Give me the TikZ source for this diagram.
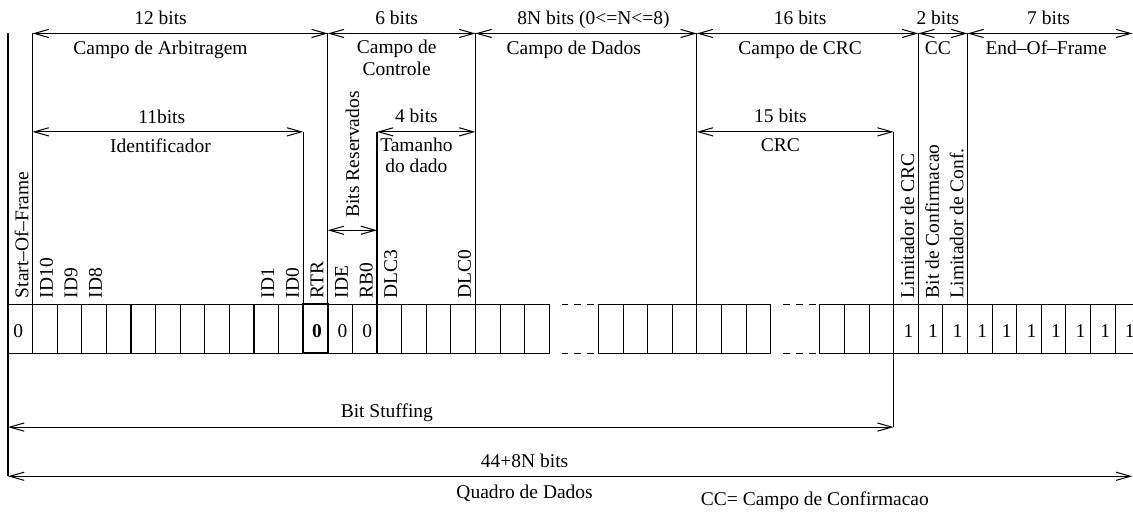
\documentclass[tikz,border=0pt]{standalone}
\usepackage{fontspec}
\setmainfont{Liberation Serif}
\usepackage{tikz}
\usetikzlibrary{arrows.meta}

\begin{document}
\begin{tikzpicture}[
  x=12pt,
  y=12pt,
  font=\fontsize{9.5}{10.3}\selectfont,
  line width=0.5pt,
  >={Straight Barb[length=7pt,width=4pt]},
  dim/.style={<->},
  cell/.style={draw=black},
  gap/.style={dash pattern=on 3.3pt off 3pt},
  lbl/.style={inner sep=0pt, anchor=base, align=center},
  vlbl/.style={inner sep=0pt, rotate=90, anchor=west},
  val/.style={inner sep=0pt}
]

\useasboundingbox (-0.325,-8.46) rectangle (45.73,12.36);

% limits of the fields (top row), of the sub-fields and of the bit row
\foreach \i in {0,1,13,19,28,37,39} \coordinate (t\i) at (\i,11);
\foreach \i in {1,12,15,19,28,36} \coordinate (m\i) at (\i,7);
\foreach \i in {0,1,12,13,15,19,28,36,37,39} \coordinate (c\i) at (\i,0);
\coordinate (tend) at (45.7,11);
\coordinate (r13) at (13,3);
\coordinate (r15) at (15,3);
\coordinate (s0) at (0,-5);
\coordinate (s36) at (36,-5);
\coordinate (q0) at (0,-7);
\coordinate (qend) at (45.7,-7);

% bits
\foreach \i in {0,...,21} \draw[cell] (\i,0) rectangle ++(1,-2);
\foreach \i in {24,...,30} \draw[cell] (\i,0) rectangle ++(1,-2);
\foreach \i in {33,...,45} \draw[cell] (\i,0) rectangle ++(1,-2);
\draw[line width=1pt] (12,0) rectangle (13,-2);
\foreach \a in {22.5,31.5} {
  \draw[gap] (\a,0) -- ++(1.45,0);
  \draw[gap] (\a,-2) -- ++(1.45,0);
}

% field limits
\draw (t0) -- (q0);
\foreach \i in {1,13,19,28,37,39} \draw (t\i) -- (c\i);
\foreach \i in {12,15} \draw (m\i) -- (c\i);
\draw (m36) -- (s36);

\draw[dim] (t1) -- (t13);
\draw[dim] (t13) -- (t19);
\draw[dim] (t19) -- (t28);
\draw[dim] (t28) -- (t37);
\draw[dim] (t37) -- (t39);
\draw[dim] (t39) -- (tend);
\draw[dim] (m1) -- (m12);
\draw[dim] (m15) -- (m19);
\draw[dim] (m28) -- (m36);
\draw[dim] (r13) -- (r15);
\draw[dim] (s0) -- (s36);
\draw[dim] (q0) -- (qend);

% field names
\node[lbl] (arbn) at (6.2,11.37) {12 bits};
\node[lbl] (arb) at (6.2,10.16) {Campo de Arbitragem};
\node[lbl] (ctln) at (15.8,11.37) {6 bits};
\node[lbl] (ctl) at (15.8,9.31) {Campo de\\Controle};
\node[lbl] (datn) at (23.8,11.37) {8N bits (0<=N<=8)};
\node[lbl] (dat) at (23.0,10.16) {Campo de Dados};
\node[lbl] (crcn) at (32.2,11.37) {16 bits};
\node[lbl] (crc) at (32.2,10.16) {Campo de CRC};
\node[lbl] (ccn) at (37.8,11.37) {2 bits};
\node[lbl] (cc) at (37.8,10.16) {CC};
\node[lbl] (eofn) at (42.3,11.37) {7 bits};
\node[lbl] (eof) at (42.2,10.16) {End--Of--Frame};

\node[lbl] (idn) at (6.25,7.36) {11bits};
\node[lbl] (id) at (6.2,6.17) {Identificador};
\node[lbl] (dlcn) at (16.6,7.38) {4 bits};
\node[lbl] (dlc) at (16.6,5.35) {Tamanho\\do dado};
\node[lbl] (crcsn) at (31.4,7.38) {15 bits};
\node[lbl] (crcs) at (31.4,6.19) {CRC};
\node[vlbl] (resv) at (14.0,3.5) {Bits Reservados};

% bit names
\node[vlbl] (sof) at (0.55,0.22) {Start--Of--Frame};
\foreach \i/\t in {1/ID10, 2/ID9, 3/ID8, 10/ID1, 11/ID0, 12/RTR, 13/IDE,
    14/RB0, 15/DLC3, 18/DLC0, 36/Limitador de CRC, 37/Bit de Confirmacao,
    38/Limitador de Conf.}
  \node[vlbl] (b\i) at (\i+0.56,0.22) {\t};

% bit values
\node[val] (v0) at (0.42,-1.1) {0};
\node[val, font=\fontsize{9.5}{10.3}\selectfont\bfseries] (v12) at (12.56,-1.1) {0};
\foreach \i/\v in {13/0, 14/0, 36/1, 37/1, 38/1, 39/1, 40/1, 41/1, 42/1, 43/1, 44/1, 45/1}
  \node[val] (v\i) at (\i+0.6,-1.1) {\v};

% frame lengths
\node[lbl] (stuff) at (15.4,-4.6) {Bit Stuffing};
\node[lbl] (quadn) at (21.0,-6.64) {44+8N bits};
\node[lbl] (quad) at (21.0,-7.9) {Quadro de Dados};
\node[lbl] (legend) at (32.8,-8.17) {CC= Campo de Confirmacao};

\end{tikzpicture}
\end{document}
